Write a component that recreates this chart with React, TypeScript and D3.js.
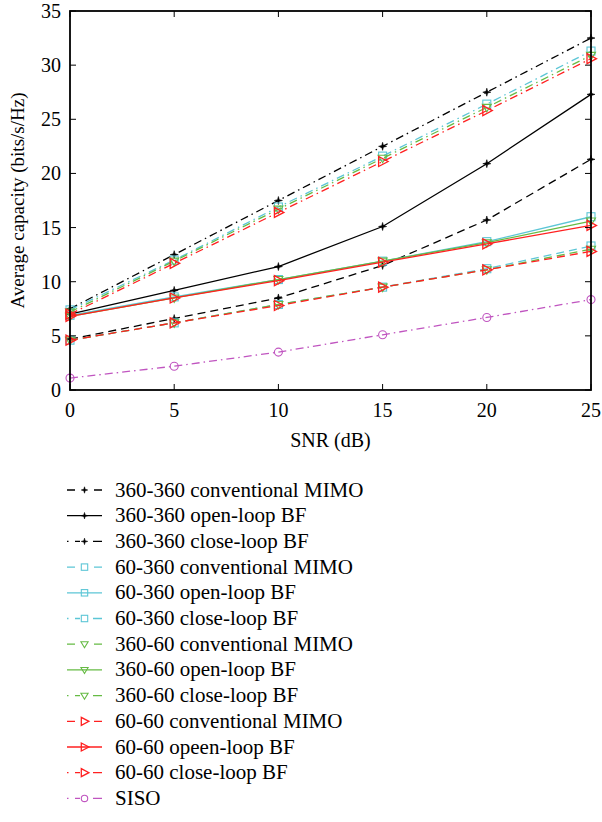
import React from "react";
import * as d3 from "d3";

const snr = [0, 5, 10, 15, 20, 25];
const yTicks = [0, 5, 10, 15, 20, 25, 30, 35];

const c360_360_conv = [4.7, 6.6, 8.5, 11.5, 15.7, 21.3];
const c360_360_open = [7.0, 9.2, 11.4, 15.1, 20.9, 27.3];
const c360_360_close = [7.5, 12.5, 17.5, 22.5, 27.5, 32.5];
const c60_360_conv = [4.6, 6.2, 7.9, 9.5, 11.2, 13.3];
const c60_360_open = [6.9, 8.6, 10.2, 11.9, 13.7, 16.0];
const c60_360_close = [7.4, 12.0, 16.9, 21.6, 26.4, 31.3];
const c360_60_conv = [4.6, 6.2, 7.9, 9.5, 11.1, 13.0];
const c360_60_open = [6.8, 8.5, 10.2, 11.9, 13.6, 15.6];
const c360_60_close = [7.2, 11.9, 16.7, 21.4, 26.1, 30.9];
const c60_60_conv = [4.6, 6.2, 7.8, 9.5, 11.1, 12.8];
const c60_60_open = [6.8, 8.5, 10.1, 11.8, 13.5, 15.2];
const c60_60_close = [7.0, 11.7, 16.4, 21.1, 25.8, 30.6];
const siso = [1.1, 2.2, 3.5, 5.1, 6.7, 8.35];

const BLACK = "#000000";
const CYAN = "#5cc6d6";
const GREEN = "#66bb44";
const RED = "#ff2020";
const MAG = "#c055c0";

const DASH = "8,5";
const DASHDOT = "8,4,1.5,4";

type Series = { name: string; values: number[]; color: string; dash: string | null; marker: string };

const series: Series[] = [
  { name: "360-360 conventional MIMO", values: c360_360_conv, color: BLACK, dash: DASH, marker: "star" },
  { name: "360-360 open-loop BF", values: c360_360_open, color: BLACK, dash: null, marker: "star" },
  { name: "360-360 close-loop BF", values: c360_360_close, color: BLACK, dash: DASHDOT, marker: "star" },
  { name: "60-360 conventional MIMO", values: c60_360_conv, color: CYAN, dash: DASH, marker: "square" },
  { name: "60-360 open-loop BF", values: c60_360_open, color: CYAN, dash: null, marker: "square" },
  { name: "60-360 close-loop BF", values: c60_360_close, color: CYAN, dash: DASHDOT, marker: "square" },
  { name: "360-60 conventional MIMO", values: c360_60_conv, color: GREEN, dash: DASH, marker: "tridown" },
  { name: "360-60 open-loop BF", values: c360_60_open, color: GREEN, dash: null, marker: "tridown" },
  { name: "360-60 close-loop BF", values: c360_60_close, color: GREEN, dash: DASHDOT, marker: "tridown" },
  { name: "60-60 conventional MIMO", values: c60_60_conv, color: RED, dash: DASH, marker: "triright" },
  { name: "60-60 opeen-loop BF", values: c60_60_open, color: RED, dash: null, marker: "triright" },
  { name: "60-60 close-loop BF", values: c60_60_close, color: RED, dash: DASHDOT, marker: "triright" },
  { name: "SISO", values: siso, color: MAG, dash: DASHDOT, marker: "circle" },
];

const W = 602, H = 822;
const left = 70, right = 591, top = 11, bottom = 390;
const FONT = "Liberation Serif, DejaVu Serif, Times New Roman, serif";

function Marker({ type, x, y, color, small }: { type: string; x: number; y: number; color: string; small?: boolean }) {
  const k = small ? 0.8 : 1;
  if (type === "star") {
    const r = 4 * k;
    const r2 = 1.2 * k;
    const pts: string[] = [];
    for (let i = 0; i < 8; i++) {
      const a = (Math.PI / 4) * i - Math.PI / 2;
      const rr = i % 2 === 0 ? r : r2;
      pts.push(`${x + rr * Math.cos(a)},${y + rr * Math.sin(a)}`);
    }
    return <polygon points={pts.join(" ")} fill={color} stroke={color} strokeWidth={0.6} />;
  }
  if (type === "square") {
    const s = 4 * k;
    return <rect x={x - s} y={y - s} width={2 * s} height={2 * s} fill="none" stroke={color} strokeWidth={1.1} />;
  }
  if (type === "tridown") {
    return <path d={`M${x - 4.5 * k},${y - 3 * k}L${x + 4.5 * k},${y - 3 * k}L${x},${y + 4.5 * k}Z`} fill="none" stroke={color} strokeWidth={1.1} />;
  }
  if (type === "triright") {
    return <path d={`M${x - 4 * k},${y - 5 * k}L${x + 5.5 * k},${y}L${x - 4 * k},${y + 5 * k}Z`} fill="none" stroke={color} strokeWidth={1.3} />;
  }
  return <circle cx={x} cy={y} r={4 * k} fill="none" stroke={color} strokeWidth={1.1} />;
}

export default function App() {
  const x = d3.scaleLinear().domain([0, 25]).range([left, right]);
  const y = d3.scaleLinear().domain([0, 35]).range([bottom, top]);
  const line = d3.line<number>().x((_, i) => x(snr[i])).y((d) => y(d));

  const legTop = 490;
  const legStep = 25.7;

  return (
    <svg width={W} height={H} style={{ position: "absolute", left: 0, top: 0, background: "#fff", fontFamily: FONT }}>
      <rect width={W} height={H} fill="#fff" />
      {series.map((s, si) => (
        <g key={si}>
          <path d={line(s.values) || ""} fill="none" stroke={s.color} strokeWidth={1.3} strokeDasharray={s.dash || undefined} />
          {s.values.map((v, i) => (
            <Marker key={i} type={s.marker} x={x(snr[i])} y={y(v)} color={s.color} />
          ))}
        </g>
      ))}
      <rect x={left} y={top} width={right - left} height={bottom - top} fill="none" stroke="#000" strokeWidth={1.8} />
      {snr.map((t) => (
        <g key={"xt" + t}>
          <line x1={x(t)} x2={x(t)} y1={bottom} y2={bottom - 6} stroke="#000" strokeWidth={1} />
          <line x1={x(t)} x2={x(t)} y1={top} y2={top + 6} stroke="#000" strokeWidth={1} />
          <text x={x(t)} y={bottom + 27} textAnchor="middle" fontSize={20}>{t}</text>
        </g>
      ))}
      {yTicks.map((t) => (
        <g key={"yt" + t}>
          <line x1={left} x2={left + 6} y1={y(t)} y2={y(t)} stroke="#000" strokeWidth={1} />
          <line x1={right} x2={right - 6} y1={y(t)} y2={y(t)} stroke="#000" strokeWidth={1} />
          <text x={left - 9} y={y(t) + 7} textAnchor="end" fontSize={20}>{t}</text>
        </g>
      ))}
      <text x={(left + right) / 2} y={447} textAnchor="middle" fontSize={20}>SNR (dB)</text>
      <text transform={`translate(24,${(top + bottom) / 2}) rotate(-90)`} textAnchor="middle" fontSize={19}>
        Average capacity (bits/s/Hz)
      </text>
      {series.map((s, i) => {
        const ly = legTop + i * legStep;
        return (
          <g key={"lg" + i}>
            <line x1={67} x2={102} y1={ly} y2={ly} stroke={s.color} strokeWidth={1.3}
              strokeDasharray={s.dash === DASH ? "8,19,8" : s.dash === DASHDOT ? "1.5,6.5,5,13,9" : undefined} />
            <Marker type={s.marker} x={84.5} y={ly} color={s.color} small />
            <text x={115} y={ly + 6.5} fontSize={21}>{s.name}</text>
          </g>
        );
      })}
    </svg>
  );
}
